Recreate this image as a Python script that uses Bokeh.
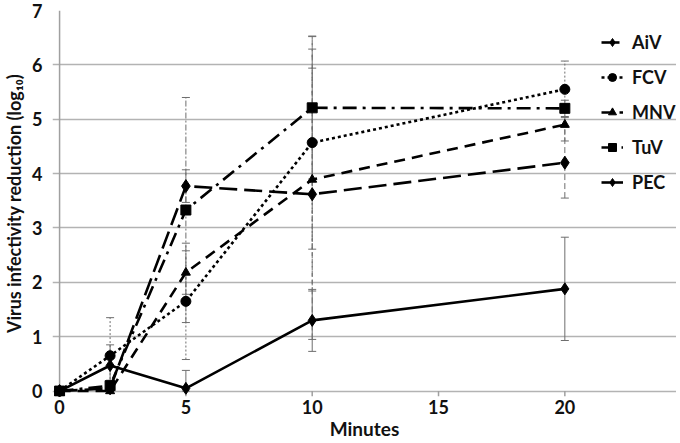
import numpy as np
from bokeh.plotting import figure
from bokeh.models import (Legend, LegendItem, Whisker, ColumnDataSource, FixedTicker,
                          Range1d, TeeHead)
from bokeh.embed import file_html
from bokeh.resources import INLINE

minutes = [0, 2, 5, 10, 20]
aiv = [0.0, 0.05, 3.77, 3.62, 4.20]
aiv_err = [0.0, 0.05, 0.30, 2.67, 0.65]
fcv = [0.0, 0.65, 1.65, 4.57, 5.55]
fcv_err = [0.0, 0.70, 1.07, 1.96, 0.52]
mnv = [0.0, 0.0, 2.18, 3.89, 4.90]
mnv_err = [0.0, 0.05, 0.40, 2.05, 0.30]
tuv = [0.0, 0.10, 3.33, 5.21, 5.20]
tuv_err = [0.0, 0.10, 2.07, 1.31, 0.15]
pec = [0.0, 0.47, 0.05, 1.30, 1.88]
pec_err = [0.0, 0.38, 0.33, 0.57, 0.95]

x_ticks = [0, 5, 10, 15, 20]
y_ticks = [0, 1, 2, 3, 4, 5, 6, 7]

FONT = "Lato"

p = figure(width=676, height=442, output_backend="svg", toolbar_location=None,
           x_range=Range1d(-0.28, 24.42), y_range=Range1d(-0.1, 7.0),
           min_border_left=50, min_border_right=0, min_border_top=10, min_border_bottom=4)
p.outline_line_color = None
p.background_fill_color = "white"

p.xgrid.visible = False
p.ygrid.ticker = FixedTicker(ticks=y_ticks)
p.ygrid.grid_line_color = "#b3b3b3"
p.ygrid.grid_line_width = 1.5
p.ygrid.bounds = (x_ticks[0], x_ticks[-1])

p.xaxis.ticker = FixedTicker(ticks=x_ticks)
p.xaxis.bounds = (x_ticks[0], x_ticks[-1])
p.yaxis.ticker = FixedTicker(ticks=y_ticks)
for ax in (p.xaxis, p.yaxis):
    ax.axis_line_color = None
    ax.major_label_text_font = FONT
    ax.major_label_text_font_style = "bold"
    ax.major_label_text_font_size = "18px"
    ax.major_label_text_color = "#111111"
    ax.axis_label_text_font = FONT
    ax.axis_label_text_font_style = "bold"
    ax.axis_label_text_font_size = "19px"
    ax.axis_label_text_color = "#111111"
    ax.minor_tick_line_color = None
    ax.major_tick_line_color = None
    ax.major_tick_in = 0
    ax.major_tick_out = 0
p.xaxis.major_label_standoff = 3
p.xaxis.axis_label = "Minutes"
p.xaxis.axis_label_standoff = 0
p.yaxis.major_label_standoff = 10
p.yaxis.axis_label = "Virus infectivity reduction (log\u2081\u2080)"
p.yaxis.axis_label_text_font_size = "18px"
p.yaxis.axis_label_standoff = 4

# y axis line at x=0 and x tick marks hanging below zero line
p.segment(x0=[x_ticks[0]], x1=[x_ticks[0]], y0=[y_ticks[0] - 0.1], y1=[y_ticks[-1]],
          line_color="#a0a0a0", line_width=1.5)
p.segment(x0=x_ticks[1:], x1=x_ticks[1:], y0=[0] * 4, y1=[-0.1] * 4,
          line_color="#a0a0a0", line_width=1.5)

series = [
    ("AiV", aiv, aiv_err, "18 7", "diamond", 13),
    ("FCV", fcv, fcv_err, "3 3", "circle", 10),
    ("MNV", mnv, mnv_err, "11 7", "triangle", 9),
    ("TuV", tuv, tuv_err, "14 6 3 6", "square", 10),
    ("PEC", pec, pec_err, "solid", "diamond", 12),
]
err_dash = {"AiV": "6 3", "FCV": "2 2", "MNV": "4 3", "TuV": "6 2 2 2", "PEC": "solid"}

items = []
for name, vals, errs, dash, marker, size in series:
    v = np.array(vals)
    e = np.array(errs)
    src = ColumnDataSource(dict(x=minutes, y=vals,
                                upper=v + e, lower=np.maximum(v - e, 0.0)))
    w = Whisker(base="x", upper="upper", lower="lower", source=src,
                line_color="#6e6e6e", line_width=1, line_dash=err_dash[name],
                upper_head=TeeHead(size=8, line_color="#6e6e6e", line_width=1),
                lower_head=TeeHead(size=8, line_color="#6e6e6e", line_width=1))
    p.add_layout(w)
    lr = p.line("x", "y", source=src, line_color="black", line_width=2.6, line_dash=dash)
    sr = p.scatter("x", "y", source=src, marker=marker, size=size,
                   fill_color="black", line_color="black")
    items.append(LegendItem(label=name, renderers=[lr, sr]))

legend = Legend(items=items, location=(549, 203))
legend.margin = 0
legend.padding = 0
legend.spacing = 13
legend.glyph_width = 22
legend.glyph_height = 20
legend.label_height = 20
legend.label_standoff = 9
legend.label_text_font = FONT
legend.label_text_font_style = "bold"
legend.label_text_font_size = "18px"
legend.label_text_color = "#111111"
legend.border_line_color = None
legend.background_fill_alpha = 0
p.add_layout(legend, "center")

open("out.html", "w").write(file_html(p, INLINE))
